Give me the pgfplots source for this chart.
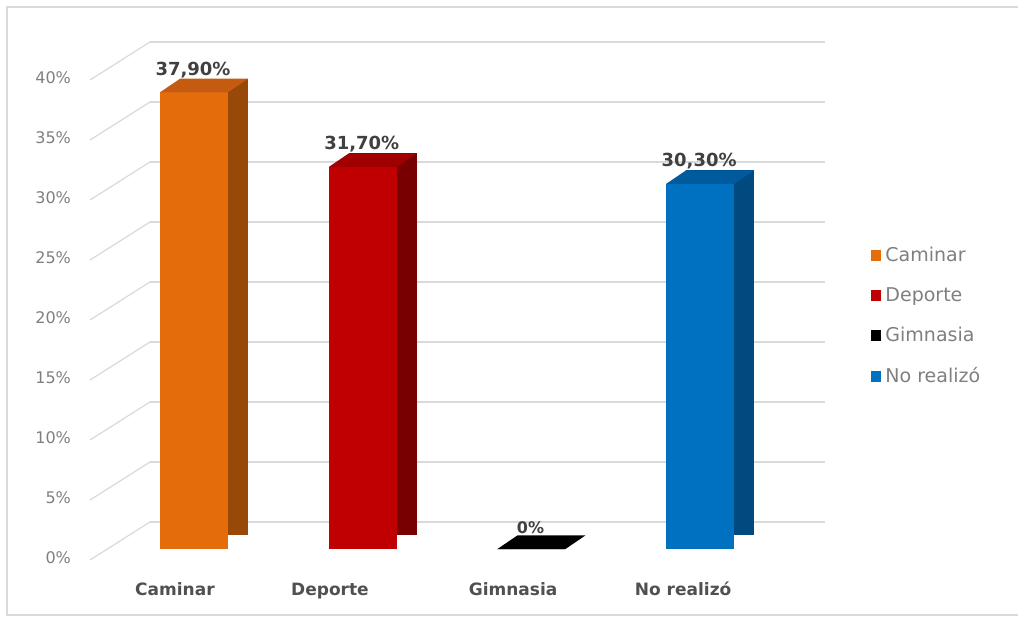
\documentclass[border=0pt]{standalone}
\usepackage{pgfplots}
\pgfplotsset{compat=1.18}
\usepackage{fontspec}
\setmainfont{DejaVu Sans}
\definecolor{gridc}{HTML}{D9D9D9}
\definecolor{tickc}{HTML}{7F7F7F}
\definecolor{labc}{HTML}{505050}
\definecolor{datc}{HTML}{404040}
\definecolor{camF}{HTML}{E46C0A}
\definecolor{camS}{HTML}{984807}
\definecolor{camT}{HTML}{C55A11}
\definecolor{depF}{HTML}{C00000}
\definecolor{depS}{HTML}{780000}
\definecolor{depT}{HTML}{A00000}
\definecolor{gimF}{HTML}{000000}
\definecolor{norF}{HTML}{0070C0}
\definecolor{norS}{HTML}{004A80}
\definecolor{norT}{HTML}{005A9E}
\pgfdeclareplotmark{topface}{%
  \pgfpathmoveto{\pgfqpoint{-17pt}{0pt}}%
  \pgfpathlineto{\pgfqpoint{17pt}{0pt}}%
  \pgfpathlineto{\pgfqpoint{27pt}{6.8pt}}%
  \pgfpathlineto{\pgfqpoint{-7pt}{6.8pt}}%
  \pgfpathclose\pgfusepathqfill}
\begin{document}
\begin{tikzpicture}
\path[use as bounding box] (0,0) rectangle (509pt,309pt);
\draw[gridc, line width=0.7pt] (509pt,305.5pt) -- (3.5pt,305.5pt) -- (3.5pt,1.5pt) -- (509pt,1.5pt);
% back wall with gridlines and tick labels
\begin{axis}[
  at={(75pt,48pt)}, anchor=south west, scale only axis,
  width=337.5pt, height=240pt,
  xmin=0, xmax=1, ymin=0, ymax=40,
  xtick=\empty, ytick={0,5,...,40},
  yticklabels={0\%,5\%,10\%,15\%,20\%,25\%,30\%,35\%,40\%},
  yticklabel style={font=\fontsize{8pt}{10pt}\selectfont, text=tickc, anchor=east, xshift=-36pt, yshift=-18pt},
  ymajorgrids, grid style={gridc, line width=0.6pt},
  axis line style={draw=none}, major tick length=0pt,
  clip=false,
]
\pgfplotsinvokeforeach{0,5,...,40}{
  \draw[gridc, line width=0.6pt] (axis cs:0,#1) -- ++(-30pt,-19pt);
}
\end{axis}
% front: bars
\begin{axis}[
  at={(47.5pt,34.5pt)}, anchor=south west, scale only axis,
  width=365pt, height=241pt,
  xmin=-0.587, xmax=3.74, ymin=0, ymax=40,
  ytick=\empty,
  xtick={-0.113,0.806,1.891,2.899},
  xticklabels={Caminar,Deporte,Gimnasia,No realizó},
  xticklabel style={font=\fontsize{8.5pt}{10pt}\selectfont\bfseries, text=labc, anchor=base, yshift=-23pt},
  axis line style={draw=none}, major tick length=0pt,
  clip=false,
  legend style={at={(1.062,0.483)}, anchor=west, draw=none, fill=none,
    font=\fontsize{9.5pt}{10pt}\selectfont, text=tickc, row sep=7.5pt,
    inner sep=0pt},
  legend cell align=left,
  legend image code/.code={\fill[#1] (0pt,-2.7pt) rectangle (5.4pt,2.7pt);},
]
% side faces (shifted rear bars)
\addplot[ybar, bar width=34pt, bar shift=10pt, yshift=6.8pt, fill=camS, draw=none, forget plot] coordinates {(0,37.9)};
\addplot[ybar, bar width=34pt, bar shift=10pt, yshift=6.8pt, fill=depS, draw=none, forget plot] coordinates {(1,31.7)};
\addplot[ybar, bar width=34pt, bar shift=10pt, yshift=6.8pt, fill=norS, draw=none, forget plot] coordinates {(3,30.3)};
% front faces
\addplot[ybar, bar width=34pt, bar shift=0pt, fill=camF, draw=none] coordinates {(0,37.9)};
\addlegendentry{Caminar}
\addplot[ybar, bar width=34pt, bar shift=0pt, fill=depF, draw=none] coordinates {(1,31.7)};
\addlegendentry{Deporte}
\addplot[ybar, bar width=34pt, bar shift=0pt, fill=gimF, draw=none] coordinates {(2,0)};
\addlegendentry{Gimnasia}
\addplot[ybar, bar width=34pt, bar shift=0pt, fill=norF, draw=none] coordinates {(3,30.3)};
\addlegendentry{No realizó}
% top faces with data labels
\addplot[only marks, mark=topface, mark options={fill=camT, draw=none}, forget plot,
  point meta=explicit symbolic, nodes near coords,
  nodes near coords style={font=\fontsize{9pt}{10pt}\selectfont\bfseries, text=datc, anchor=center, yshift=11.3pt, xshift=-0.5pt}]
  coordinates {(0,37.9) [37{,}90\%]};
\addplot[only marks, mark=topface, mark options={fill=depT, draw=none}, forget plot,
  point meta=explicit symbolic, nodes near coords,
  nodes near coords style={font=\fontsize{9pt}{10pt}\selectfont\bfseries, text=datc, anchor=center, yshift=11.3pt, xshift=-0.5pt}]
  coordinates {(1,31.7) [31{,}70\%]};
\addplot[only marks, mark=topface, mark options={fill=black, draw=none}, forget plot,
  point meta=explicit symbolic, nodes near coords,
  nodes near coords style={font=\fontsize{8pt}{10pt}\selectfont\bfseries, text=datc, anchor=center, yshift=10.5pt, xshift=-0.5pt}]
  coordinates {(2,0) [0\%]};
\addplot[only marks, mark=topface, mark options={fill=norT, draw=none}, forget plot,
  point meta=explicit symbolic, nodes near coords,
  nodes near coords style={font=\fontsize{9pt}{10pt}\selectfont\bfseries, text=datc, anchor=center, yshift=11.3pt, xshift=-0.5pt}]
  coordinates {(3,30.3) [30{,}30\%]};
\end{axis}
\end{tikzpicture}
\end{document}
